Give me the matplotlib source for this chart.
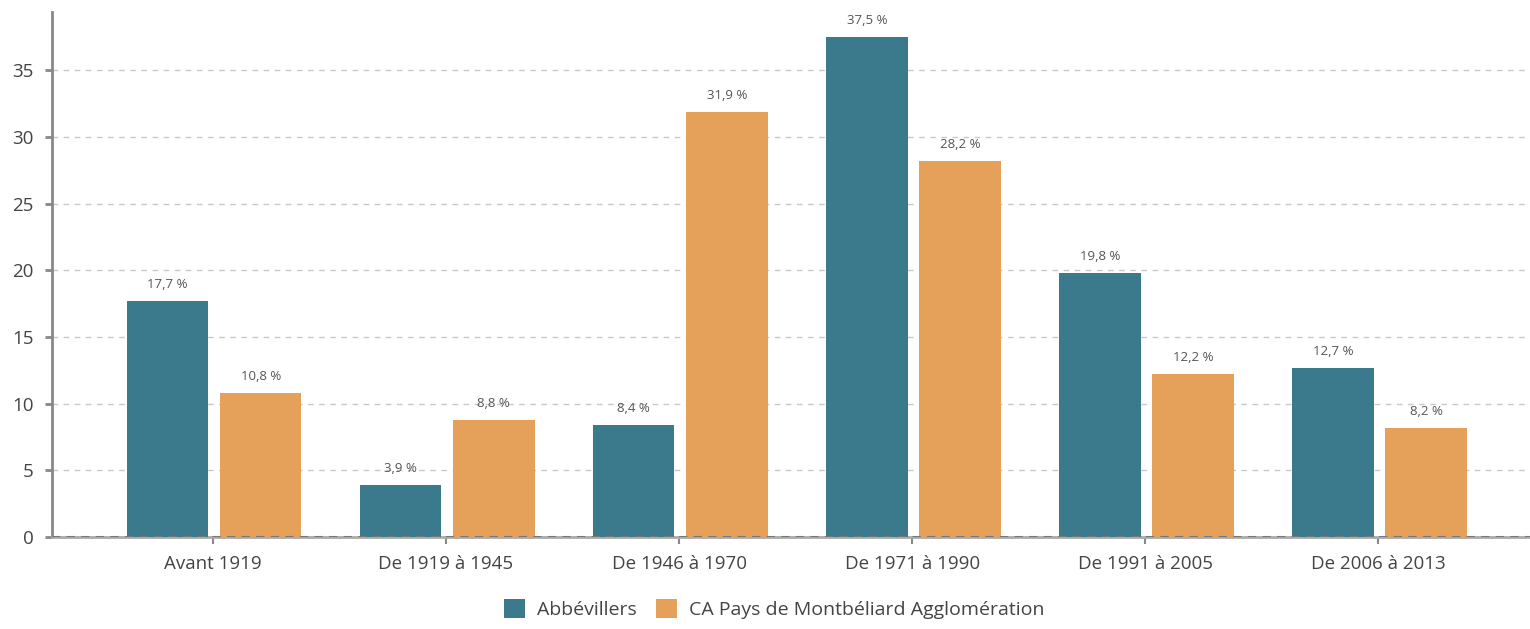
import numpy as np
import matplotlib.pyplot as plt

categories = ['Avant 1919', 'De 1919 à 1945', 'De 1946 à 1970', 'De 1971 à 1990',
              'De 1991 à 2005', 'De 2006 à 2013']
abbevillers = [17.7, 3.9, 8.4, 37.5, 19.8, 12.7]
ca_montbeliard = [10.8, 8.8, 31.9, 28.2, 12.2, 8.2]
series_names = ['Abbévillers', 'CA Pays de Montbéliard Agglomération']

teal = '#3A7A8C'
orange = '#E5A05A'
txt = '#444444'

plt.rcParams['font.family'] = ['Open Sans', 'DejaVu Sans']

fig = plt.figure(figsize=(15.3, 6.29), dpi=100)
ax = fig.add_axes([0.034, 0.1463, 0.966, 0.835])

x = np.arange(len(categories))
w = 0.35
b1 = ax.bar(x - 0.195, abbevillers, w, color=teal, label=series_names[0], zorder=3)
b2 = ax.bar(x + 0.205, ca_montbeliard, w, color=orange, label=series_names[1], zorder=3)

for bars, vals in ((b1, abbevillers), (b2, ca_montbeliard)):
    for r, v in zip(bars, vals):
        ax.text(r.get_x() + r.get_width() / 2, v + 0.75, f'{v:.1f} %'.replace('.', ','),
                ha='center', va='bottom', fontsize=9.5, color='#555555')

ax.set_xlim(-0.69, 5.65)
ax.set_ylim(0, 39.4)
ax.set_yticks([0, 5, 10, 15, 20, 25, 30, 35])
ax.set_xticks(x)
ax.set_xticklabels(categories)
ax.yaxis.grid(True, linestyle=(0, (4, 4)), color='#c8c8c8', linewidth=1, zorder=0)
ax.set_axisbelow(True)

for s in ['top', 'right']:
    ax.spines[s].set_visible(False)
ax.spines['left'].set_color('#888888')
ax.spines['left'].set_linewidth(2)
ax.spines['bottom'].set_color('#aaaaaa')
ax.spines['bottom'].set_linewidth(2)
ax.axhline(0, color='#777777', linestyle=(0, (4, 3)), linewidth=1.5, zorder=4)

ax.tick_params(axis='y', length=5, width=2, color='#888888', labelsize=13.5, labelcolor=txt, pad=8)
ax.tick_params(axis='x', length=5, width=1.5, color='#888888', labelsize=13.5, labelcolor=txt, pad=8)

fig.legend(handles=[b1, b2], loc='lower center', bbox_to_anchor=(0.506, -0.012), ncol=2,
           frameon=False, fontsize=14, handlelength=1.1, handleheight=1.1,
           handletextpad=0.6, columnspacing=1.0, labelcolor=txt)

fig.savefig('out.png', dpi=100)
